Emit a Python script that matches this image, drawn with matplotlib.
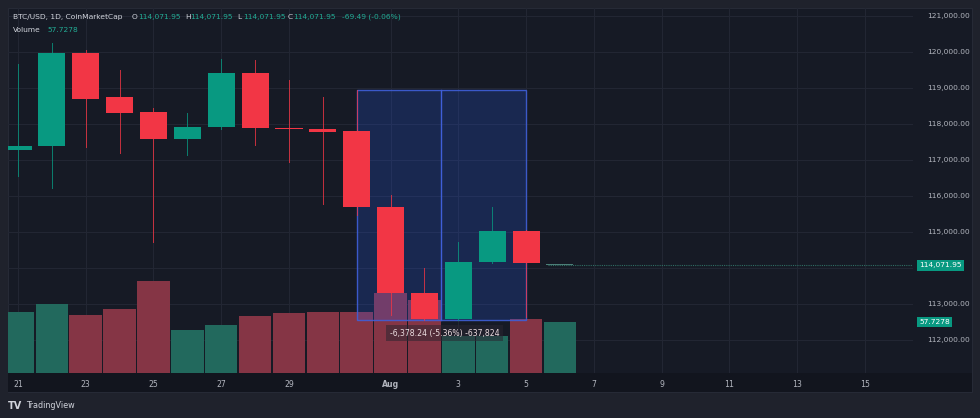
import matplotlib.pyplot as plt
import matplotlib.transforms as mtransforms
from matplotlib.lines import Line2D
from matplotlib.patches import Rectangle

# daily candles Jul 21 .. Aug 6
dias = ['Jul 21', 'Jul 22', 'Jul 23', 'Jul 24', 'Jul 25', 'Jul 26', 'Jul 27', 'Jul 28',
        'Jul 29', 'Jul 30', 'Jul 31', 'Aug 1', 'Aug 2', 'Aug 3', 'Aug 4', 'Aug 5', 'Aug 6']
abertura = [117280, 117390, 119960, 118740, 118320, 117590, 117910, 119430, 117900,
            117860, 117800, 115700, 113300, 112580, 114180, 115040, 114071.95]
maximo = [119667, 120250, 120050, 119500, 118440, 118300, 119800, 119780, 119220,
          118740, 118940, 116030, 114000, 114730, 115700, 115060, 114071.95]
minimo = [116556, 116220, 117360, 117200, 114730, 117140, 117860, 117420, 116950,
          115780, 115470, 112700, 112562, 112560, 114140, 112650, 114071.95]
fecho = [117390, 119960, 118690, 118310, 117570, 117910, 119410, 117880, 117850,
         117790, 115700, 113300, 112580, 114180, 115040, 114141.44, 114071.95]
volume = [69.4, 78.1, 66.0, 72.1, 103.8, 48.7, 54.3, 64.5, 68.3, 68.7, 68.7, 90.2,
          82.6, 42.4, 42.4, 60.8, 57.7278]

tick_pos = [0, 2, 4, 6, 8, 11, 13, 15, 17, 19, 21, 23, 25]
tick_txt = ['21', '23', '25', '27', '29', 'Aug', '3', '5', '7', '9', '11', '13', '15']
precos = [112000, 113000, 114000, 115000, 116000, 117000, 118000, 119000, 120000, 121000]

ultimo = 114071.95
vol_ultimo = 57.7278
caixa_topo, caixa_base = 118940.0, 112561.76

VERDE, VERMELHO = '#089981', '#f23645'
VOL_VERDE, VOL_VERMELHO = '#22695d', '#853545'
FUNDO, MOLDURA = '#161a25', '#1f222c'
TEXTO = '#b2b5be'
GRELHA = '#222633'

W, H = 980, 418
fig = plt.figure(figsize=(9.8, 4.18), dpi=100, facecolor=MOLDURA)


def px(x, y):
    return x / W, 1 - y / H


# inner frame and date strip (drawn under the axes)
fig.patches.append(Rectangle(px(8, 392), 964 / W, 384 / H, transform=fig.transFigure,
                             facecolor=FUNDO, edgecolor='#262a36', lw=0.8, zorder=-2))
fig.patches.append(Rectangle(px(8, 392), 964 / W, 19 / H, transform=fig.transFigure,
                             facecolor='#12151e', edgecolor='none', zorder=-1))

esq, dir_, topo, base = 8, 913, 8, 373
ax = fig.add_axes([esq / W, 1 - base / H, (dir_ - esq) / W, (base - topo) / H])
ax2 = ax.twinx()
ax.set_zorder(ax2.get_zorder() + 1)
ax.patch.set_visible(False)
ax2.patch.set_visible(False)

x = list(range(len(dias)))
passo = 33.87
ax.set_xlim((esq - 18) / passo, (dir_ - 18) / passo)
ax.set_ylim(121000 - (base - 16) / 0.036, 121000 + (16 - topo) / 0.036)
ax2.set_ylim(0, (base - topo) / 51 * vol_ultimo)

# grid lives on the volume axes so it stays under the bars
for p in precos:
    ax2.add_line(Line2D([0, 1], [p, p], transform=ax.get_yaxis_transform(),
                        color=GRELHA, lw=0.8, zorder=0))
for t in tick_pos:
    ax2.axvline(t, color=GRELHA, lw=0.8, zorder=0)

# volume
cores_vol = [VOL_VERDE if c >= o else VOL_VERMELHO for o, c in zip(abertura, fecho)]
ax2.bar(x, volume, width=0.96, color=cores_vol, zorder=1)
ax2.set_yticks([])
for s in ax2.spines.values():
    s.set_visible(False)

# measure box
ax.add_patch(Rectangle((10, caixa_base), 5, caixa_topo - caixa_base, facecolor='#2962ff',
                       alpha=0.2, edgecolor='none', zorder=1))
ax.add_patch(Rectangle((10, caixa_base), 5, caixa_topo - caixa_base, facecolor='none',
                       edgecolor='#3f5fd8', lw=1, alpha=0.9, zorder=1.5))
ax.plot([12.5, 12.5], [caixa_base, caixa_topo], color='#3f5fd8', lw=1, zorder=1.5)

# candles
for i in x:
    o, h, l, c = abertura[i], maximo[i], minimo[i], fecho[i]
    cor = VERDE if c >= o else VERMELHO
    if i == len(dias) - 1:
        cor = '#4c7f78'
    ax.plot([i, i], [l, h], color=cor, lw=0.7, alpha=0.8, zorder=2)
    altura = max(abs(c - o), 30)
    ax.add_patch(Rectangle((i - 0.4, min(o, c)), 0.8, altura, facecolor=cor,
                           edgecolor='none', zorder=3))

# last price line
ax.plot([15.65, 26.5], [ultimo, ultimo], color='#2f6e63', lw=0.8, ls=(0, (1, 1)), zorder=2)

# range label
ax.text(12.6, 112190, '-6,378.24 (-5.36%) -637,824', fontsize=5.6, color='#ecdde0',
        ha='center', va='center', zorder=5,
        bbox=dict(boxstyle='square,pad=0.45', facecolor='#2a2530', edgecolor='none', alpha=0.55))

# axes cosmetics
for s in ax.spines.values():
    s.set_visible(False)
ax.set_xticks(tick_pos)
ax.set_xticklabels(tick_txt)
ax.tick_params(axis='x', length=0, pad=5, labelsize=5.6, colors=TEXTO)
for lab in ax.get_xticklabels():
    if lab.get_text() == 'Aug':
        lab.set_fontweight('bold')
ax.yaxis.tick_right()
ax.set_yticks(precos)
# 114,000 label is hidden behind the last-price tag
ax.set_yticklabels(['' if p == 114000 else f'{p:,.2f}' for p in precos])
ax.tick_params(axis='y', length=0, pad=10, labelsize=5.4, colors=TEXTO)
ax.grid(False)

# price / volume tags
off = mtransforms.offset_copy(ax.get_yaxis_transform(), fig=fig, x=6, y=0, units='dots')
ax.text(1.0, ultimo, f'{ultimo:,.2f}', transform=off, fontsize=5.4, color='white',
        ha='left', va='center', zorder=6,
        bbox=dict(boxstyle='square,pad=0.3', facecolor=VERDE, edgecolor='none'))
off2 = mtransforms.offset_copy(ax2.get_yaxis_transform(), fig=fig, x=6, y=0, units='dots')
ax2.text(1.0, vol_ultimo, f'{vol_ultimo:.4f}', transform=off2, fontsize=5.4, color='white',
         ha='left', va='center', zorder=6, clip_on=False,
         bbox=dict(boxstyle='square,pad=0.3', facecolor=VERDE, edgecolor='none'))

# header legend
VAL = '#22ab94'
cabecalho = [(13, 'BTC/USD, 1D, CoinMarketCap', '#d1d4dc'), (132, 'O', '#d1d4dc'),
             (138, f'{ultimo:,.2f}', VAL), (185, 'H', '#d1d4dc'), (190, f'{ultimo:,.2f}', VAL),
             (237, 'L', '#d1d4dc'), (243, f'{ultimo:,.2f}', VAL), (288, 'C', '#d1d4dc'),
             (293, f'{ultimo:,.2f}', VAL), (342, '-69.49 (-0.06%)', VAL)]
for xx, txt, cor in cabecalho:
    fig.text(*px(xx, 17), txt, fontsize=5.4, color=cor, va='center', ha='left')
fig.text(*px(13, 30), 'Volume', fontsize=5.4, color='#d1d4dc', va='center', ha='left')
fig.text(*px(47, 30), f'{vol_ultimo:.4f}', fontsize=5.4, color=VAL, va='center', ha='left')

# footer
fig.text(*px(8, 406), 'TV', fontsize=7, color='#d1d4dc', fontweight='bold', va='center')
fig.text(*px(26, 406), 'TradingView', fontsize=5.8, color='#d1d4dc', va='center')

fig.savefig('out.png', dpi=100, facecolor=MOLDURA)
